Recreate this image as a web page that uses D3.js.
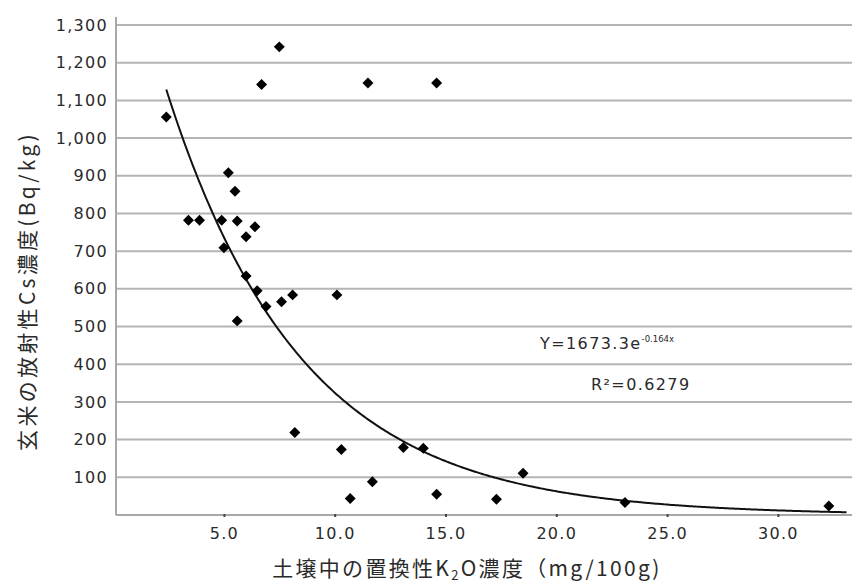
<!DOCTYPE html>
<html>
<head>
<meta charset="utf-8">
<script src="https://cdn.jsdelivr.net/npm/d3@7"></script>
<style>
  body { margin: 0; background: #fff; }
  svg text { fill: #2a2a2a; }
</style>
</head>
<body>
<svg id="chart" width="853" height="586"></svg>
<script>
// K2O in soil (mg/100g) vs Cs in brown rice (Bq/kg)
const k2o = [2.4, 7.5, 6.7, 11.5, 14.6,
  5.2, 5.5, 3.4, 3.9, 4.9, 5.6, 6.4, 6.0, 5.0, 6.0, 6.5, 6.9, 7.6, 8.1, 10.1, 5.6,
  8.2, 10.3, 10.7, 11.7, 13.1, 14.0, 14.6, 17.3, 18.5, 23.1, 32.3];
const cs = [1056, 1242, 1142, 1146, 1146,
  908, 859, 782, 782, 782, 780, 765, 738, 709, 634, 595, 553, 566, 584, 584, 515,
  219, 174, 44, 88, 179, 177, 55, 42, 111, 33, 24];

const fitA = 1673.3;
const fitB = -0.164;
const yTicks = [100, 200, 300, 400, 500, 600, 700, 800, 900, 1000, 1100, 1200, 1300];
const xTicks = [5, 10, 15, 20, 25, 30];

const data = k2o.map((x, i) => ({ x, y: cs[i] }));

const plotLeft = 116, plotRight = 851, plotTop = 25, plotBottom = 515;
const svg = d3.select("#chart");

const xScale = d3.scaleLinear().domain([0.13, 33.3]).range([plotLeft, plotRight]);
const yScale = d3.scaleLinear().domain([0, 1300]).range([plotBottom, plotTop]);

// grid
svg.append("g")
  .selectAll("line")
  .data(yTicks)
  .enter()
  .append("line")
  .attr("x1", plotLeft)
  .attr("x2", 852)
  .attr("y1", d => yScale(d))
  .attr("y2", d => yScale(d))
  .attr("stroke", "#b4b4b4")
  .attr("stroke-width", 2);

// axes
const yAxis = d3.axisLeft(yScale).tickValues(yTicks).tickSize(0).tickPadding(8)
  .tickFormat(d3.format(","));
const gy = svg.append("g")
  .attr("transform", `translate(${plotLeft},0)`)
  .call(yAxis);
gy.select(".domain").attr("stroke", "#a8a8a8").attr("stroke-width", 2)
  .attr("d", `M0,${plotTop - 8}V${plotBottom}`);
gy.selectAll("text")
  .style("font-family", "DejaVu Sans")
  .style("font-size", "16px")
  .style("letter-spacing", "1.3px");

const xAxis = d3.axisBottom(xScale).tickValues(xTicks).tickSize(3).tickPadding(10)
  .tickFormat(d3.format(".1f"));
const gx = svg.append("g")
  .attr("transform", `translate(0,${plotBottom})`)
  .call(xAxis);
gx.select(".domain").attr("stroke", "#a8a8a8").attr("stroke-width", 2)
  .attr("d", `M${plotLeft},0H852`);
gx.selectAll(".tick line").attr("stroke", "#444").attr("stroke-width", 2)
  .attr("y1", -1).attr("y2", 2);
gx.selectAll("text")
  .style("font-family", "DejaVu Sans")
  .style("font-size", "16px")
  .style("letter-spacing", "1.3px");

// trendline
const xs = d3.range(d3.min(k2o), 33.15, 0.1);
const line = d3.line()
  .x(d => xScale(d))
  .y(d => yScale(fitA * Math.exp(fitB * d)))
  .curve(d3.curveMonotoneX);
svg.append("path")
  .datum(xs)
  .attr("d", line)
  .attr("fill", "none")
  .attr("stroke", "#111")
  .attr("stroke-width", 2);

// points
svg.append("g")
  .selectAll("path")
  .data(data)
  .enter()
  .append("path")
  .attr("d", d3.symbol().type(d3.symbolSquare).size(60))
  .attr("transform", d => `translate(${xScale(d.x)},${yScale(d.y)}) rotate(45)`)
  .attr("fill", "#000");

// equation labels
const eq = svg.append("text")
  .attr("x", 540)
  .attr("y", 349)
  .style("font-family", "DejaVu Sans")
  .style("font-size", "16px")
  .style("letter-spacing", "1.4px");
eq.append("tspan").text("Y=1673.3e");
eq.append("tspan").attr("dy", -7).style("font-size", "8.5px").style("letter-spacing", "0px")
  .text("-0.164x");

svg.append("text")
  .attr("x", 591)
  .attr("y", 390)
  .style("font-family", "DejaVu Sans")
  .style("font-size", "16px")
  .style("letter-spacing", "1.4px")
  .text("R²=0.6279");

// axis titles
const xt = svg.append("text")
  .attr("x", 467)
  .attr("y", 576)
  .attr("text-anchor", "middle")
  .style("font-family", "Noto Sans CJK JP")
  .style("font-size", "21px")
  .style("letter-spacing", "2.3px");
xt.append("tspan").text("土壌中の置換性K");
xt.append("tspan").attr("dy", 4).style("font-size", "13px").text("2");
xt.append("tspan").attr("dy", -4).text("O濃度（mg/100g)");

svg.append("text")
  .attr("transform", "translate(35,291) rotate(-90)")
  .attr("text-anchor", "middle")
  .style("font-family", "Noto Sans CJK JP")
  .style("font-size", "21px")
  .style("letter-spacing", "3.3px")
  .text("玄米の放射性Cs濃度(Bq/kg)");
</script>
</body>
</html>
